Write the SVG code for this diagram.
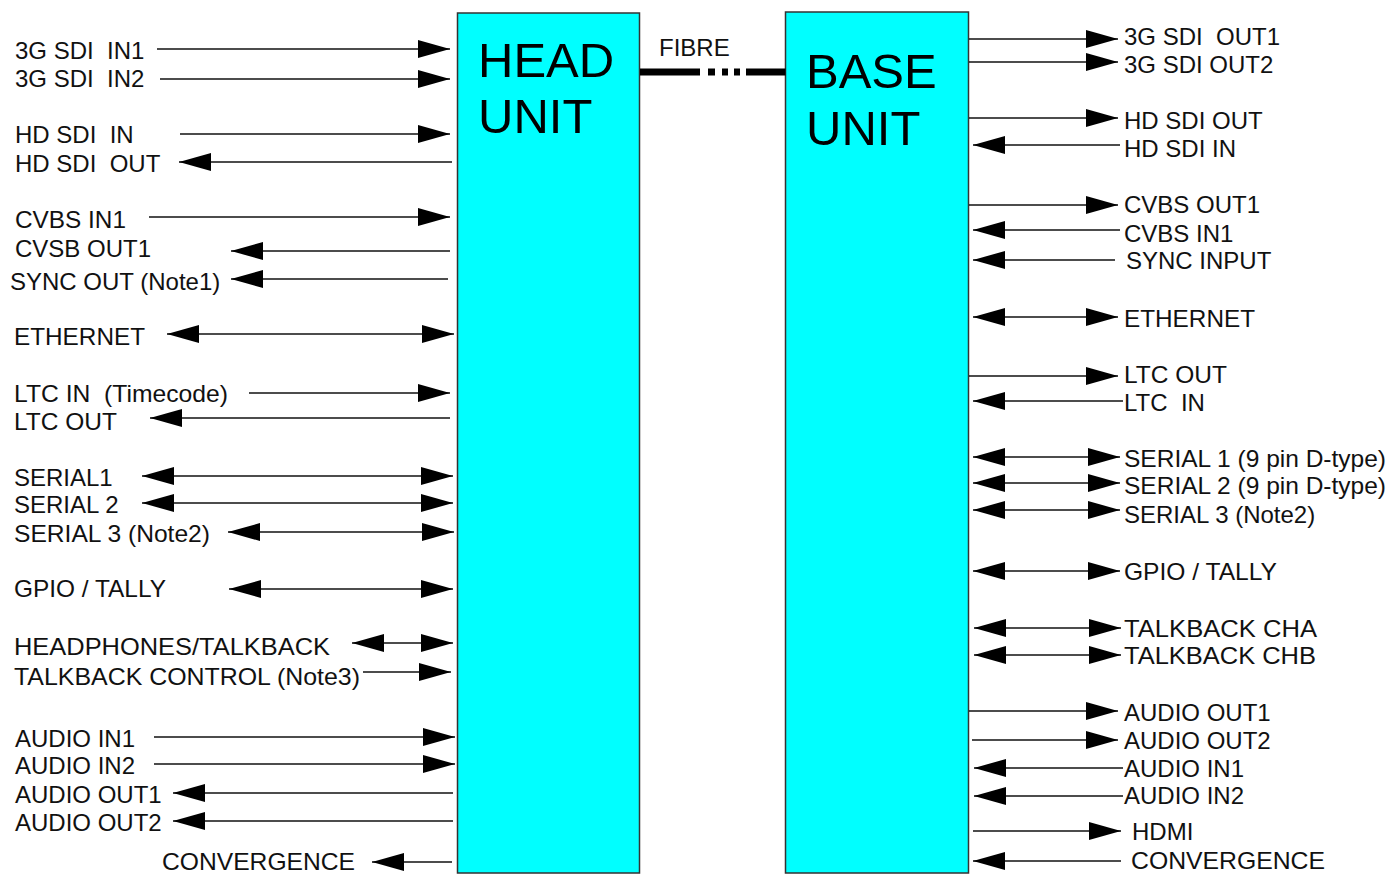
<svg xmlns="http://www.w3.org/2000/svg" width="1390" height="874" viewBox="0 0 1390 874">
<style>
.box{fill:#00FFFF;stroke:#333;stroke-width:1.5}
.title{font-family:"Liberation Sans",Arial,sans-serif;font-size:49px;fill:#000}
.t{font-family:"Liberation Sans",Arial,sans-serif;font-size:24px;fill:#111;white-space:pre}
.c{stroke:#111;stroke-width:1.5;fill:none}
.e{marker-end:url(#ah)}
.s{marker-start:url(#ah)}
.b{marker-start:url(#ah);marker-end:url(#ah)}
</style>
<defs>
<marker id="ah" viewBox="0 0 32 18" refX="32" refY="9" markerWidth="32" markerHeight="18" markerUnits="userSpaceOnUse" orient="auto-start-reverse">
<path d="M0,0 L32,9 L0,18 Z" fill="#000"/>
</marker>
</defs>
<rect width="1390" height="874" fill="#fff"/>

<g id="head-unit">
<rect class="box" x="457.5" y="13" width="182" height="860"/>
<text class="title" x="478" y="77">HEAD</text>
<text class="title" x="478" y="133">UNIT</text>
</g>

<g id="base-unit">
<rect class="box" x="785.5" y="12" width="183" height="861"/>
<text class="title" x="806" y="88">BASE</text>
<text class="title" x="806" y="145">UNIT</text>
</g>

<g id="fibre">
<text class="t" x="659" y="56">FIBRE</text>
<rect x="640" y="68.5" width="60" height="7" fill="#000"/>
<rect x="708" y="68.5" width="7" height="7" fill="#000"/>
<rect x="722" y="68.5" width="6" height="7" fill="#000"/>
<rect x="734" y="68.5" width="6" height="7" fill="#000"/>
<rect x="746" y="68.5" width="39.5" height="7" fill="#000"/>
</g>

<g id="left-labels">
<text class="t" x="15" y="59">3G SDI  IN1</text>
<text class="t" x="15" y="87">3G SDI  IN2</text>
<text class="t" x="15" y="143">HD SDI  IN</text>
<text class="t" x="15" y="172">HD SDI  OUT</text>
<text class="t" x="15" y="228" textLength="111" lengthAdjust="spacingAndGlyphs">CVBS IN1</text>
<text class="t" x="15" y="257">CVSB OUT1</text>
<text class="t" x="10" y="290" fill="#222">SYNC OUT (Note1)</text>
<text class="t" x="14" y="345" textLength="131" lengthAdjust="spacingAndGlyphs">ETHERNET</text>
<text class="t" x="14" y="402" textLength="214" lengthAdjust="spacingAndGlyphs">LTC IN  (Timecode)</text>
<text class="t" x="14" y="430" textLength="103" lengthAdjust="spacingAndGlyphs">LTC OUT</text>
<text class="t" x="14" y="486">SERIAL1</text>
<text class="t" x="14" y="513">SERIAL 2</text>
<text class="t" x="14" y="542" textLength="196" lengthAdjust="spacingAndGlyphs">SERIAL 3 (Note2)</text>
<text class="t" x="14" y="597" textLength="152" lengthAdjust="spacingAndGlyphs">GPIO / TALLY</text>
<text class="t" x="14" y="655" textLength="316" lengthAdjust="spacingAndGlyphs">HEADPHONES/TALKBACK</text>
<text class="t" x="14" y="685" textLength="346" lengthAdjust="spacingAndGlyphs">TALKBACK CONTROL (Note3)</text>
<text class="t" x="15" y="747">AUDIO IN1</text>
<text class="t" x="15" y="774">AUDIO IN2</text>
<text class="t" x="15" y="803">AUDIO OUT1</text>
<text class="t" x="15" y="831">AUDIO OUT2</text>
<text class="t" x="162" y="870" textLength="193" lengthAdjust="spacingAndGlyphs">CONVERGENCE</text>
</g>

<g id="right-labels">
<text class="t" x="1124" y="45">3G SDI  OUT1</text>
<text class="t" x="1124" y="73">3G SDI OUT2</text>
<text class="t" x="1124" y="129">HD SDI OUT</text>
<text class="t" x="1124" y="157">HD SDI IN</text>
<text class="t" x="1124" y="213">CVBS OUT1</text>
<text class="t" x="1124" y="242">CVBS IN1</text>
<text class="t" x="1126" y="269">SYNC INPUT</text>
<text class="t" x="1124" y="327" textLength="131" lengthAdjust="spacingAndGlyphs">ETHERNET</text>
<text class="t" x="1124" y="383" textLength="103" lengthAdjust="spacingAndGlyphs">LTC OUT</text>
<text class="t" x="1124" y="411">LTC  IN</text>
<text class="t" x="1124" y="467" textLength="262" lengthAdjust="spacingAndGlyphs">SERIAL 1 (9 pin D-type)</text>
<text class="t" x="1124" y="494" textLength="262" lengthAdjust="spacingAndGlyphs">SERIAL 2 (9 pin D-type)</text>
<text class="t" x="1124" y="523">SERIAL 3 (Note2)</text>
<text class="t" x="1124" y="580" textLength="153" lengthAdjust="spacingAndGlyphs">GPIO / TALLY</text>
<text class="t" x="1124" y="637" textLength="193" lengthAdjust="spacingAndGlyphs">TALKBACK CHA</text>
<text class="t" x="1124" y="664" textLength="192" lengthAdjust="spacingAndGlyphs">TALKBACK CHB</text>
<text class="t" x="1124" y="721">AUDIO OUT1</text>
<text class="t" x="1124" y="749">AUDIO OUT2</text>
<text class="t" x="1124" y="777">AUDIO IN1</text>
<text class="t" x="1124" y="804">AUDIO IN2</text>
<text class="t" x="1132" y="840">HDMI</text>
<text class="t" x="1131" y="869" textLength="194" lengthAdjust="spacingAndGlyphs">CONVERGENCE</text>
</g>

<g id="connectors">
<line class="c e" x1="157" y1="49" x2="450" y2="49"/>
<line class="c e" x1="160" y1="79" x2="450" y2="79"/>
<line class="c e" x1="180" y1="134" x2="450" y2="134"/>
<line class="c s" x1="179" y1="162" x2="452" y2="162"/>
<line class="c e" x1="149" y1="217" x2="450" y2="217"/>
<line class="c s" x1="231" y1="251" x2="450" y2="251"/>
<line class="c s" x1="231" y1="279" x2="448" y2="279"/>
<line class="c b" x1="167" y1="334" x2="454" y2="334"/>
<line class="c e" x1="249" y1="393" x2="450" y2="393"/>
<line class="c s" x1="150" y1="418" x2="450" y2="418"/>
<line class="c b" x1="142" y1="476" x2="453" y2="476"/>
<line class="c b" x1="142" y1="503" x2="453" y2="503"/>
<line class="c b" x1="228" y1="532" x2="454" y2="532"/>
<line class="c b" x1="229" y1="589" x2="453" y2="589"/>
<line class="c b" x1="352" y1="643" x2="453" y2="643"/>
<line class="c e" x1="363" y1="672" x2="451" y2="672"/>
<line class="c e" x1="154" y1="737" x2="455" y2="737"/>
<line class="c e" x1="154" y1="764" x2="455" y2="764"/>
<line class="c s" x1="173" y1="793" x2="453" y2="793"/>
<line class="c s" x1="173" y1="821" x2="453" y2="821"/>
<line class="c s" x1="372" y1="862" x2="452" y2="862"/>

<line class="c e" x1="969" y1="39" x2="1118" y2="39"/>
<line class="c e" x1="969" y1="62" x2="1118" y2="62"/>
<line class="c e" x1="969" y1="118" x2="1118" y2="118"/>
<line class="c s" x1="973" y1="145" x2="1120" y2="145"/>
<line class="c e" x1="969" y1="205" x2="1118" y2="205"/>
<line class="c s" x1="973" y1="230" x2="1120" y2="230"/>
<line class="c s" x1="973" y1="260" x2="1115" y2="260"/>
<line class="c b" x1="973" y1="317" x2="1118" y2="317"/>
<line class="c e" x1="969" y1="376" x2="1118" y2="376"/>
<line class="c s" x1="973" y1="401" x2="1123" y2="401"/>
<line class="c b" x1="973" y1="457" x2="1120" y2="457"/>
<line class="c b" x1="973" y1="483" x2="1120" y2="483"/>
<line class="c b" x1="973" y1="510" x2="1120" y2="510"/>
<line class="c b" x1="973" y1="571" x2="1120" y2="571"/>
<line class="c b" x1="974" y1="628" x2="1121" y2="628"/>
<line class="c b" x1="974" y1="655" x2="1121" y2="655"/>
<line class="c e" x1="969" y1="711" x2="1118" y2="711"/>
<line class="c e" x1="972" y1="740" x2="1118" y2="740"/>
<line class="c s" x1="974" y1="768" x2="1123" y2="768"/>
<line class="c s" x1="974" y1="796" x2="1123" y2="796"/>
<line class="c e" x1="973" y1="831" x2="1121" y2="831"/>
<line class="c s" x1="973" y1="861" x2="1121" y2="861"/>
</g>
</svg>
